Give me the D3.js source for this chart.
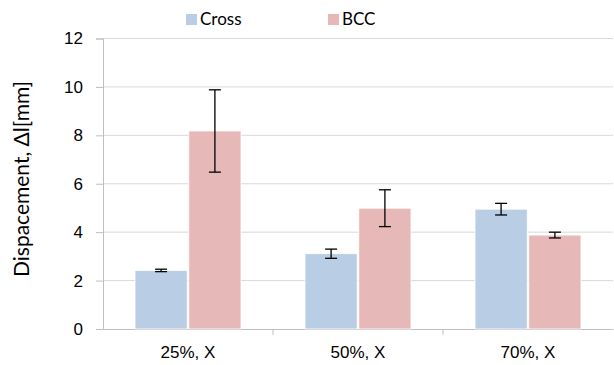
<!DOCTYPE html>
<html>
<head>
<meta charset="utf-8">
<script src="https://cdn.jsdelivr.net/npm/d3@7"></script>
<style>
  html, body { margin: 0; padding: 0; background: #fff; }
  svg { display: block; font-family: Lato, "Open Sans", sans-serif; }
</style>
</head>
<body>
<svg id="chart" width="614" height="365"></svg>
<script>
// Displacement per infill level, two lattice types
const categories = ["25%, X", "50%, X", "70%, X"];
const seriesNames = ["Cross", "BCC"];
const crossValues = [2.42, 3.11, 4.95];
const crossErrors = [0.05, 0.19, 0.24];
const bccValues = [8.18, 4.99, 3.88];
const bccErrors = [1.70, 0.76, 0.12];
const yTicks = [0, 2, 4, 6, 8, 10, 12];
const colors = ["#B9CDE5", "#E6B9B8"];

const svg = d3.select("#chart");
const margin = { left: 103, right: 1, top: 38.5, bottom: 36 };
const W = 614, H = 365;
const plotW = W - margin.left - margin.right;
const plotH = H - margin.top - margin.bottom;

const g = svg.append("g").attr("transform", `translate(${margin.left},${margin.top})`);

const x0 = d3.scaleBand().domain(categories).range([0, plotW]).paddingInner(0).paddingOuter(0);
const x1 = d3.scaleBand().domain(seriesNames).range([32, x0.bandwidth() - 32]).paddingInner(0.03);
const y = d3.scaleLinear().domain([0, 12]).range([plotH, 0]);

// horizontal gridlines
g.append("g").selectAll("line").data(yTicks.filter(t => t > 0)).join("line")
  .attr("x1", 0).attr("x2", plotW)
  .attr("y1", d => y(d)).attr("y2", d => y(d))
  .attr("stroke", "#d9d9d9").attr("stroke-width", 1);

// y axis
const yAxis = g.append("g").call(d3.axisLeft(y).tickValues(yTicks).tickSize(7).tickPadding(13));
yAxis.select(".domain").attr("stroke", "#bfbfbf");
yAxis.selectAll(".tick line").attr("stroke", "#bfbfbf");
yAxis.selectAll(".tick text").attr("font-size", 17).attr("fill", "#000");

// x axis
const xAxis = g.append("g").attr("transform", `translate(0,${plotH})`)
  .call(d3.axisBottom(x0).tickSize(0).tickPadding(17));
xAxis.select(".domain").attr("stroke", "#bfbfbf");
xAxis.selectAll(".tick text").attr("font-size", 17).attr("fill", "#000");
// category separators
g.append("g").selectAll("line").data(categories.slice(1)).join("line")
  .attr("x1", d => x0(d)).attr("x2", d => x0(d))
  .attr("y1", plotH).attr("y2", plotH + 6)
  .attr("stroke", "#bfbfbf");

const rows = categories.map((c, i) => ({
  cat: c,
  bars: [
    { s: "Cross", v: crossValues[i], e: crossErrors[i], c: colors[0] },
    { s: "BCC", v: bccValues[i], e: bccErrors[i], c: colors[1] }
  ]
}));

const groups = g.append("g").selectAll("g").data(rows).join("g")
  .attr("transform", d => `translate(${x0(d.cat)},0)`);

groups.selectAll("rect").data(d => d.bars).join("rect")
  .attr("x", d => x1(d.s)).attr("width", x1.bandwidth())
  .attr("y", d => y(d.v)).attr("height", d => plotH - y(d.v))
  .attr("fill", d => d.c).attr("stroke", "#fff").attr("stroke-width", 0.8);

// error bars
const err = groups.selectAll("g.err").data(d => d.bars).join("g").attr("class", "err")
  .attr("transform", d => `translate(${x1(d.s) + x1.bandwidth() / 2},0)`);
err.append("line").attr("x1", 0).attr("x2", 0)
  .attr("y1", d => y(d.v + d.e)).attr("y2", d => y(d.v - d.e))
  .attr("stroke", "#000").attr("stroke-width", 1.3);
err.selectAll("line.cap").data(d => [d.v + d.e, d.v - d.e]).join("line").attr("class", "cap")
  .attr("x1", -6).attr("x2", 6).attr("y1", d => y(d)).attr("y2", d => y(d))
  .attr("stroke", "#000").attr("stroke-width", 1.3);

// y axis title
svg.append("text")
  .attr("transform", `translate(29,179) rotate(-90)`)
  .attr("text-anchor", "middle").attr("font-size", 21).attr("fill", "#000")
  .text("Dispacement, Δl[mm]");

// legend
const legendX = [186, 328];
const leg = svg.append("g").selectAll("g").data(seriesNames).join("g")
  .attr("transform", (d, i) => `translate(${legendX[i]},14)`);
leg.append("rect").attr("width", 11).attr("height", 11).attr("fill", (d, i) => colors[i]);
leg.append("text").attr("x", 14).attr("y", 11).attr("font-size", 17).attr("fill", "#000").text(d => d);
</script>
</body>
</html>
